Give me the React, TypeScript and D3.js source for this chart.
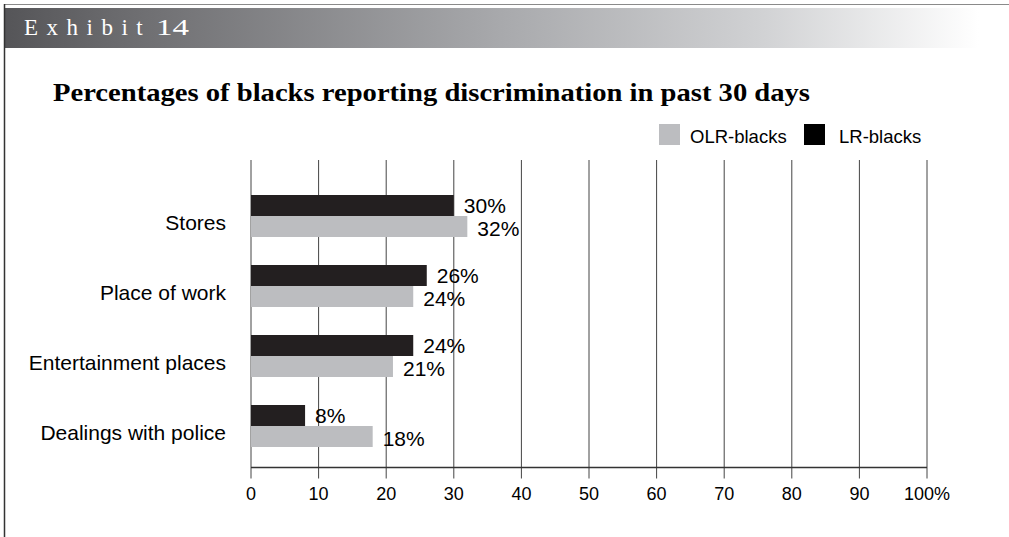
import React from "react";
import * as d3 from "d3";

const categories = ["Stores", "Place of work", "Entertainment places", "Dealings with police"];
const lrBlacks = [30, 26, 24, 8];
const olrBlacks = [32, 24, 21, 18];
const xTicks = [0, 10, 20, 30, 40, 50, 60, 70, 80, 90, 100];
const seriesNames = ["OLR-blacks", "LR-blacks"];

const W = 1009;
const H = 537;
const BLACK = "#231f20";
const GRAY = "#bcbdc0";
const SANS = "'Liberation Sans', Arial, sans-serif";
const SERIF = "'Liberation Serif', 'Times New Roman', serif";

export default function App() {
  const x = d3.scaleLinear().domain([0, 100]).range([251, 927]);
  const y = d3.scaleBand<string>().domain(categories).range([181, 461]).padding(0);
  const barH = 21;
  const gridTop = 160;
  const axisY = 467.5;

  return (
    <div style={{ position: "absolute", left: 0, top: 0 }}>
      <svg width={W} height={H} style={{ display: "block", background: "#fff" }}>
        <defs>
          <linearGradient id="hdr" x1="0" x2="1" y1="0" y2="0">
            <stop offset="0" stopColor="#555558" />
            <stop offset="0.12" stopColor="#6c6c6f" />
            <stop offset="0.5" stopColor="#a9aaad" />
            <stop offset="0.75" stopColor="#d0d1d3" />
            <stop offset="0.97" stopColor="#ffffff" />
            <stop offset="1" stopColor="#ffffff" />
          </linearGradient>
        </defs>
        {/* frame */}
        <line x1={4} x2={W} y1={4.5} y2={4.5} stroke="#8a8a8a" strokeWidth={1} />
        <rect x={5} y={8} width={W - 5} height={40} fill="url(#hdr)" />
        <line x1={4.5} x2={4.5} y1={4} y2={H} stroke="#333" strokeWidth={1.5} />
        <text x={24} y={35} fill="#fff" fontFamily={SERIF} fontSize={23} letterSpacing={8.5}>
          Exhibit
        </text>
        <text x={156} y={35} fill="#fff" fontFamily={SERIF} fontSize={23} textLength={33} lengthAdjust="spacingAndGlyphs">
          14
        </text>
        {/* title */}
        <text x={53} y={101} fontFamily={SERIF} fontWeight="bold" fontSize={25} fill="#000" textLength={757} lengthAdjust="spacingAndGlyphs">
          Percentages of blacks reporting discrimination in past 30 days
        </text>
        {/* legend */}
        <rect x={659} y={124} width={21} height={21} fill={GRAY} />
        <text x={690} y={143} fontFamily={SANS} fontSize={18.5} fill="#000">{seriesNames[0]}</text>
        <rect x={804} y={124} width={21} height={21} fill="#000" />
        <text x={839} y={143} fontFamily={SANS} fontSize={18.5} fill="#000">{seriesNames[1]}</text>
        {/* grid */}
        {xTicks.map((t) => (
          <line key={"g" + t} x1={x(t)} x2={x(t)} y1={gridTop} y2={axisY + 11} stroke="#444" strokeWidth={1} />
        ))}
        {/* bars */}
        {categories.map((c, i) => {
          const cy = (y(c) as number) + y.bandwidth() / 2;
          return (
            <g key={c}>
              <rect x={x(0)} y={cy - barH} width={x(lrBlacks[i]) - x(0)} height={barH} fill={BLACK} />
              <rect x={x(0)} y={cy} width={x(olrBlacks[i]) - x(0)} height={barH} fill={GRAY} />
              <text x={x(lrBlacks[i]) + 10} y={cy - barH / 2 + 7} fontFamily={SANS} fontSize={21} fill="#000">
                {lrBlacks[i]}%
              </text>
              <text x={x(olrBlacks[i]) + 10} y={cy + barH / 2 + 9} fontFamily={SANS} fontSize={21} fill="#000">
                {olrBlacks[i]}%
              </text>
              <text x={226} y={cy + 14} textAnchor="end" fontFamily={SANS} fontSize={21} fill="#000">
                {c}
              </text>
            </g>
          );
        })}
        {/* axis */}
        <line x1={x(0)} x2={x(100)} y1={axisY} y2={axisY} stroke="#333" strokeWidth={1.5} />
        {xTicks.map((t) => (
          <text key={"t" + t} x={x(t)} y={500} textAnchor="middle" fontFamily={SANS} fontSize={18} fill="#000">
            {t === 100 ? "100%" : String(t)}
          </text>
        ))}
      </svg>
    </div>
  );
}
